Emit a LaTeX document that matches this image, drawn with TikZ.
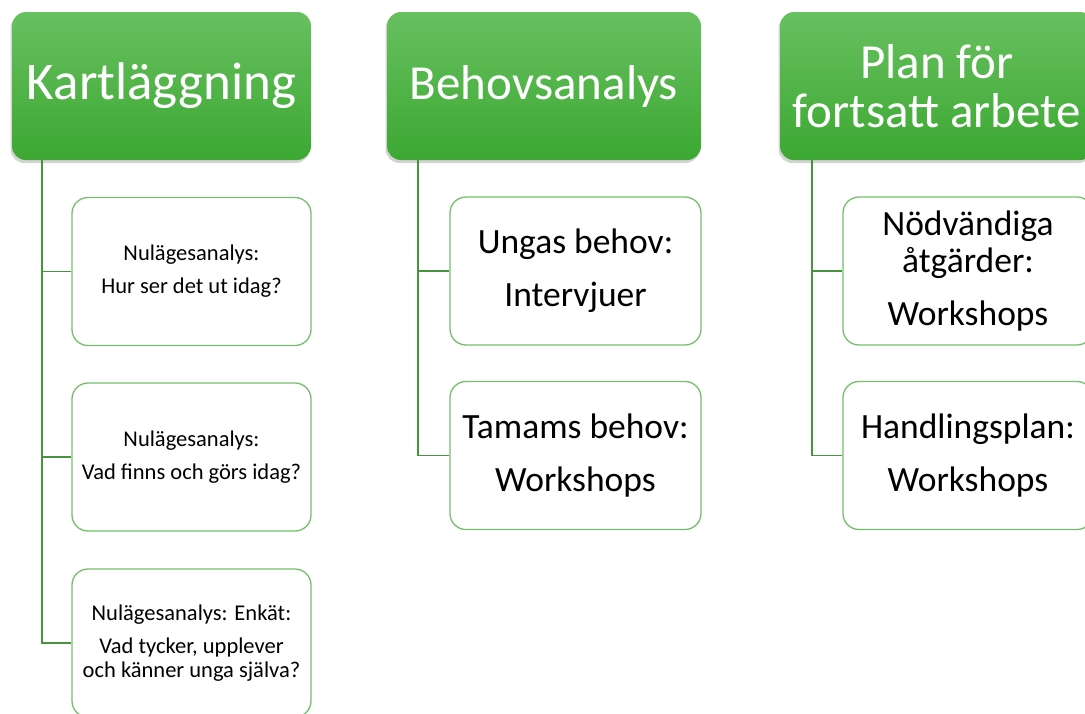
\documentclass[tikz,border=0pt]{standalone}
\usepackage{fontspec}
\setmainfont{Carlito}
\usetikzlibrary{shadows}
\definecolor{gronljus}{RGB}{104,192,96}
\definecolor{gronmork}{RGB}{60,168,50}
\definecolor{kant}{RGB}{116,192,106}
\definecolor{linje}{RGB}{72,148,62}
\tikzset{
	rubrik/.style={
		shape=rectangle,
		minimum height=148pt,
		inner sep=0pt,
		align=center,
		rounded corners=14pt,
		top color=gronljus,
		bottom color=gronmork,
		draw=none,
		text=white,
		font=\fontsize{49}{49}\selectfont,
		drop shadow={shadow xshift=-1.5pt, shadow yshift=-3pt, opacity=0.35}
	},
	delsteg/.style={
		shape=rectangle,
		minimum height=148pt,
		inner sep=0pt,
		align=center,
		rounded corners=16pt,
		draw=kant,
		line width=1.3pt,
		fill=white
	},
	liten/.style={
		font=\fontsize{22.5}{24}\selectfont
	},
	stor/.style={
		font=\fontsize{35.5}{37}\selectfont
	},
	gren/.style={
		draw=linje,
		line width=1.8pt
	}
}
\begin{document}
\begin{tikzpicture}[x=1pt,y=-1pt]
	\useasboundingbox (0,0) rectangle (1085,713);
	
	% rubriker
	\node[rubrik, minimum width=299pt, font=\fontsize{53}{53}\selectfont] (kart) at (161.5,86) {Kartläggning};
	\node[rubrik, minimum width=314pt] (behov) at (544,86) {Behovsanalys};
	\node[rubrik, minimum width=314pt] (plan) at (937,86) {Plan för\\fortsatt arbete};
	
	% kartläggning
	\node[delsteg, liten, minimum width=239pt] (k1) at (191.5,271.5) {Nulägesanalys:\\[9pt]Hur ser det ut idag?};
	\node[delsteg, liten, minimum width=239pt] (k2) at (191.5,457) {Nulägesanalys:\\[9pt]Vad finns och görs idag?};
	\node[delsteg, liten, minimum width=239pt] (k3) at (191.5,643) {Nulägesanalys: Enkät:\\[9pt]Vad tycker, upplever\\och känner unga själva?};
	
	% behovsanalys
	\node[delsteg, stor, minimum width=251pt] (b1) at (575.5,271) {Ungas behov:\\[16pt]Intervjuer};
	\node[delsteg, stor, minimum width=251pt] (b2) at (575.5,455.5) {Tamams behov:\\[16pt]Workshops};
	
	% plan
	\node[delsteg, stor, minimum width=250pt] (p1) at (968,271) {Nödvändiga\\åtgärder:\\[16pt]Workshops};
	\node[delsteg, stor, minimum width=250pt] (p2) at (968,455.5) {Handlingsplan:\\[16pt]Workshops};
	
	\foreach \barn in {k1,k2,k3} {
		\draw[gren] ([xshift=30pt]kart.south west) |- (\barn.west);
	}
	\foreach \barn in {b1,b2} {
		\draw[gren] ([xshift=31pt]behov.south west) |- (\barn.west);
	}
	\foreach \barn in {p1,p2} {
		\draw[gren] ([xshift=32pt]plan.south west) |- (\barn.west);
	}
	
\end{tikzpicture}
\end{document}
